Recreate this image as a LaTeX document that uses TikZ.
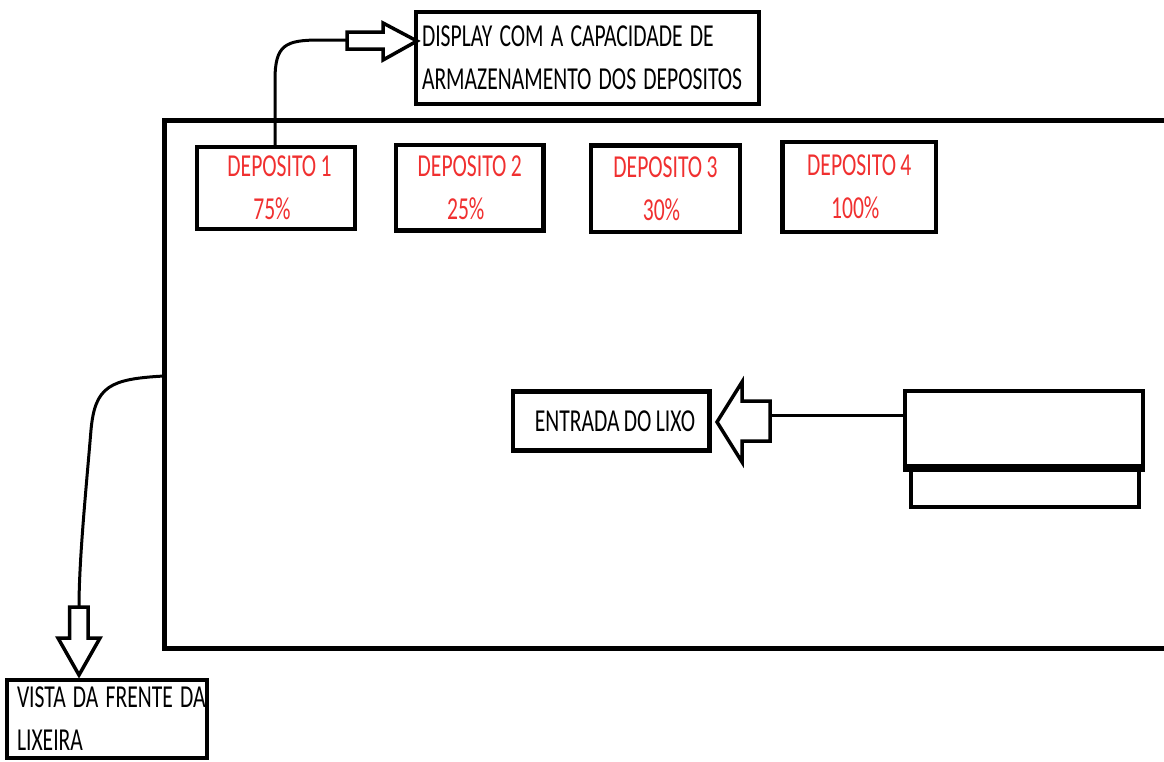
\documentclass[tikz,border=0pt]{standalone}
\usepackage{fontspec}
\setmainfont{Carlito}
\usepackage{graphicx}
\definecolor{dred}{RGB}{240,48,48}
\newcommand{\vs}[1]{\scalebox{1}[1.48]{#1}}
\newcommand{\boxfont}{\fontsize{21.6}{43}\selectfont\spaceskip=0.2em plus 0.05em minus 0.05em\relax}
\begin{document}
\begin{tikzpicture}[x=1pt,y=-1pt,
  box/.style={draw, line width=4.5pt, inner sep=0pt, font=\boxfont},
  depbox/.style={box, text=dred, align=center},
  conn/.style={line width=3pt},
  harrow/.style={draw, line width=3.5pt, line join=miter, fill=white}]
\useasboundingbox (0,0) rectangle (1164,761);
% main front view
\node[box, line width=5pt, minimum width=1011pt, minimum height=528pt] (frente) at (669.5,384) {};
% display label
\node[box, line width=4pt, minimum width=343pt, minimum height=92pt, align=left, text width=331pt, inner xsep=6pt] (display) at (587.5,58)
  {\vs{DISPLAY COM A CAPACIDADE DE}\\\vs{ARMAZENAMENTO DOS DEPOSITOS}};
% deposits
\node[depbox, minimum width=158pt, minimum height=82pt] (dep1) at (276,188)
  {\kern7pt\vs{DEPOSITO 1}\\\vs{75\%}\kern8pt};
\node[depbox, minimum width=147.5pt, minimum height=85.5pt] (dep2) at (469.75,187.75)
  {\vs{DEPOSITO 2}\\\vs{25\%}\kern8pt};
\node[depbox, minimum width=149pt, minimum height=86.4pt] (dep3) at (665.5,188.6)
  {\vs{DEPOSITO 3}\\\vs{30\%}\kern8pt};
\node[depbox, minimum width=153.5pt, minimum height=90pt] (dep4) at (859.25,187)
  {\vs{DEPOSITO 4}\\\vs{100\%}\kern8pt};
% entrada do lixo
\node[box, minimum width=196.5pt, minimum height=59pt] (entrada) at (611,421)
  {\kern8pt\vs{ENTRADA DO LIXO}};
% right box (trash inlet)
\node[box, minimum width=228pt, minimum height=41pt] (lbox) at (1025,486.5) {};
\node[box, minimum width=238pt, minimum height=75pt] (rbox) at (1024,428.5) {};
\draw[line width=7pt] (rbox.south west) -- (rbox.south east);
% vista label
\node[box, line width=4pt, minimum width=200.5pt, minimum height=78pt, align=left, text width=179.5pt, inner xsep=10.5pt] (vista) at (106.75,719)
  {\vs{VISTA DA FRENTE DA}\\\vs{LIXEIRA}};
% coordinates for connector ends
\coordinate (a1) at (347,40);
\coordinate (a2) at (770,415);
\coordinate (a3) at (79,607);
\coordinate (c2) at (164,376);
% connectors
\draw[conn] ([xshift=-1pt]dep1.north) -- (275,80) .. controls (275,45) and (285,40) .. (320,40) -- (a1);
\draw[harrow] (347,32) -- (383,32) -- (383,23) -- (417,41) -- (383,60) -- (383,49) -- (347,49) -- cycle;
\draw[conn] (rbox.west |- a2) -- (a2);
\draw[harrow] (770,401) -- (742,401) -- (742,382) -- (717,422) -- (742,462) -- (742,441) -- (770,441) -- cycle;
\draw[conn] (c2) .. controls (110,379) and (95,386) .. (91,430) .. controls (86,490) and (79,560) .. (a3);
\draw[harrow] (69.5,607) -- (88,607) -- (88,638) -- (100,638) -- (79,675) -- (58,638) -- (69.5,638) -- cycle;
\end{tikzpicture}
\end{document}
